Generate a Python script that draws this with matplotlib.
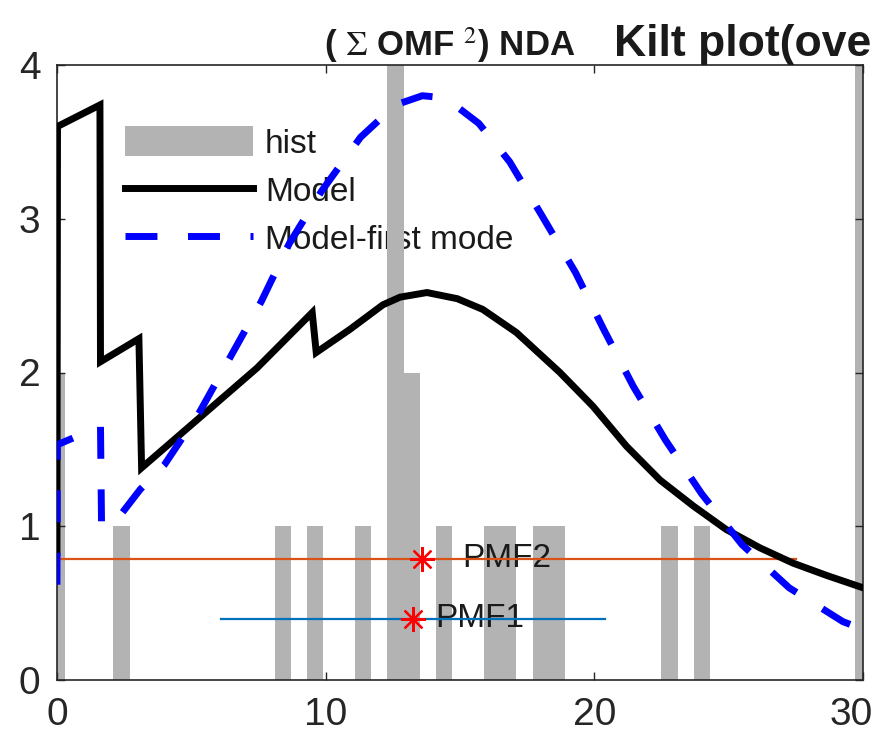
import matplotlib
matplotlib.use('Agg')
import matplotlib.pyplot as plt
from matplotlib.transforms import ScaledTranslation

plt.rcParams['font.family'] = ['Liberation Sans', 'DejaVu Sans']
plt.rcParams['mathtext.fontset'] = 'stix'

# histogram bins (centers) and counts
hist_centers = [0, 2.4, 8.4, 9.6, 11.4, 12.6, 13.2, 14.4, 16.2, 16.8, 18.0, 18.6, 22.8, 24.0, 30.0]
hist_counts = [2, 1, 1, 1, 1, 4, 2, 1, 1, 1, 1, 1, 1, 1, 4]
bin_width = 0.6

# full model curve
model_x = [0, 0.02, 1.6, 1.62, 3.05, 3.15, 5.6, 7.45, 9.5, 9.65, 10.9, 12.13, 12.77, 13.77,
           14.9, 15.85, 17.1, 18.72, 19.95, 21.2, 22.45, 23.7, 24.9, 26.16, 27.4, 28.65, 30]
model_y = [0.83, 3.6, 3.74, 2.07, 2.22, 1.38, 1.75, 2.03, 2.39, 2.13, 2.28, 2.44, 2.49, 2.52,
           2.48, 2.41, 2.26, 2.0, 1.78, 1.52, 1.30, 1.13, 0.98, 0.86, 0.76, 0.68, 0.60]

# model first mode
first_x = [0, 0.01, 1.62, 1.66, 2.35, 3.1, 4.0, 5.3, 6.45, 7.6, 8.65, 9.85, 11.3, 12.6,
           13.6, 14.2, 14.8, 15.7, 16.85, 18.05, 19.3, 20.35, 21.45, 22.65, 24.0, 25.5, 27.25, 29.25, 30]
first_y = [0.62, 1.53, 1.65, 1.0, 1.07, 1.24, 1.40, 1.74, 2.10, 2.46, 2.84, 3.18, 3.53, 3.74,
           3.80, 3.79, 3.74, 3.62, 3.37, 3.02, 2.65, 2.28, 1.91, 1.56, 1.21, 0.88, 0.60, 0.38, 0.33]

# PMF markers and ranges
pmf_names = ['PMF1', 'PMF2']
pmf_x = [13.25, 13.6]
pmf_y = [0.40, 0.79]
pmf_label_x = [14.07, 15.1]
pmf_lo = [6.1, 0.0]
pmf_hi = [20.4, 27.5]
pmf_colors = ['#0072BD', '#D95319']

fig = plt.figure(figsize=(8.79, 7.45), dpi=100)
ax = fig.add_axes([0.0648, 0.0872, 0.917, 0.8256])

bars = ax.bar(hist_centers, hist_counts, width=bin_width, color='#b3b3b3',
              edgecolor='none', label='hist', zorder=1)

for i in range(len(pmf_names)):
    ax.plot([pmf_lo[i], pmf_hi[i]], [pmf_y[i], pmf_y[i]], color=pmf_colors[i], lw=1.6, zorder=3)
    ax.text(pmf_label_x[i], pmf_y[i], pmf_names[i], fontsize=24, va='center',
            ha='left', color='#1a1a1a', zorder=2)
    ax.plot(pmf_x[i], pmf_y[i], marker=(8, 2, 0), ms=18, mew=1.6, color='red', zorder=6)

l_model, = ax.plot(model_x, model_y, color='black', lw=5, solid_joinstyle='miter',
                   label='Model', zorder=4)
l_first, = ax.plot(first_x, first_y, color='#0000ff', lw=5, dashes=(4.6, 4.4),
                   label='Model-first mode', zorder=5)

ax.set_xlim(0, 30)
ax.set_ylim(0, 4)
ax.set_xticks([0, 10, 20, 30])
ax.set_yticks([0, 1, 2, 3, 4])
ax.tick_params(direction='in', length=6, width=1, top=True, right=True,
               labelsize=28, colors='#262626', pad=12)
for s in ax.spines.values():
    s.set_color('#262626')
    s.set_linewidth(1.2)

# last x label sits a bit left of its tick, as in the original
lbl = ax.get_xticklabels()[-1]
lbl.set_transform(lbl.get_transform() + ScaledTranslation(-0.12, 0, fig.dpi_scale_trans))

leg = ax.legend([bars, l_model, l_first], ['hist', 'Model', 'Model-first mode'],
                loc='upper left', bbox_to_anchor=(0.084, 0.90), frameon=False,
                fontsize=24, handlelength=3.85, handleheight=1.0, handletextpad=0.36,
                labelspacing=0.45, borderpad=0, borderaxespad=0)
leg.set_zorder(0.5)
for t in leg.get_texts():
    t.set_color('#1a1a1a')

fig.text(0.512, 0.925, r'( $\Sigma$ OMF $^{2}$) NDA', fontsize=25, fontweight='bold',
         ha='center', va='baseline', color='#1a1a1a')
fig.text(0.699, 0.925, 'Kilt plot(ove', fontsize=32, fontweight='bold',
         ha='left', va='baseline', color='#1a1a1a')

fig.savefig('out.png', dpi=100)
